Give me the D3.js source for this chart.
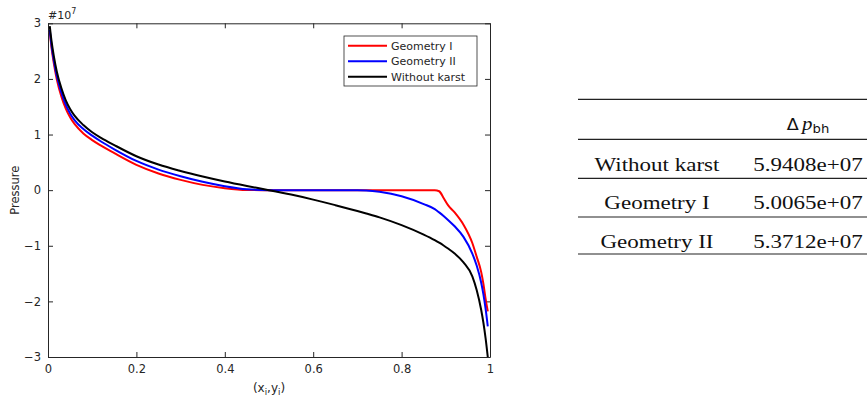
<!DOCTYPE html>
<html>
<head>
<meta charset="utf-8">
<script src="https://cdn.jsdelivr.net/npm/d3@7"></script>
<style>
  body { margin: 0; background: #fff; }
  svg { display: block; }
</style>
</head>
<body>
<script>
// positions along the well (x_i, y_i)
var xs = [0.004, 0.008, 0.013, 0.02, 0.03, 0.04, 0.05, 0.06, 0.08, 0.1, 0.12, 0.15, 0.2, 0.25, 0.3, 0.35, 0.4, 0.45,
          0.5, 0.55, 0.6, 0.65, 0.7, 0.72, 0.75, 0.8, 0.85, 0.875, 0.885, 0.895, 0.905, 0.92, 0.94, 0.96, 0.97, 0.98, 0.985, 0.99, 0.995];

// pressure, units of 1e7
var geomI = [2.85, 2.56, 2.29, 1.99, 1.69, 1.47, 1.31, 1.19, 1.02, 0.9, 0.8, 0.665, 0.455, 0.3, 0.185, 0.095, 0.035, 0.003,
             0, 0, 0, 0, 0, 0, 0, 0, 0, 0, -0.02, -0.14, -0.27, -0.4, -0.62, -0.95, -1.2, -1.47, -1.68, -1.95, -2.18];
var geomII = [2.88, 2.6, 2.34, 2.05, 1.76, 1.54, 1.38, 1.26, 1.1, 0.98, 0.875, 0.735, 0.525, 0.37, 0.25, 0.15, 0.07, 0.015,
              0, 0, 0, 0, 0, -0.005, -0.03, -0.11, -0.25, -0.34, -0.4, -0.465, -0.535, -0.65, -0.84, -1.14, -1.36, -1.66, -1.87, -2.13, -2.45];
var noKarst = [2.95, 2.68, 2.42, 2.13, 1.84, 1.62, 1.46, 1.34, 1.17, 1.04, 0.94, 0.81, 0.61, 0.46, 0.345, 0.245, 0.155, 0.075,
               0.0, -0.08, -0.17, -0.27, -0.375, -0.42, -0.49, -0.63, -0.8, -0.9, -0.945, -0.995, -1.05, -1.14, -1.3, -1.55, -1.8, -2.15, -2.38, -2.66, -3.0];

var seriesNames = ["Geometry I", "Geometry II", "Without karst"];
var seriesColors = ["#ff0000", "#0000ff", "#000000"];

var xTicks = [0, 0.2, 0.4, 0.6, 0.8, 1];
var xTickLabels = ["0", "0.2", "0.4", "0.6", "0.8", "1"];
var yTicks = [-3, -2, -1, 0, 1, 2, 3];

// table
var tableRows = ["Without karst", "Geometry I", "Geometry II"];
var tableValues = ["5.9408e+07", "5.0065e+07", "5.3712e+07"];

var svg = d3.select("body").append("svg")
  .attr("width", 867)
  .attr("height", 405);

var x = d3.scaleLinear().domain([0, 1]).range([48, 490]);
var y = d3.scaleLinear().domain([-3, 3]).range([357, 23.3]);
var axisColor = "#262626";
var sans = "DejaVu Sans, sans-serif";

// axes (box with inward ticks)
var xAxis = svg.append("g")
  .attr("transform", "translate(0," + y(-3) + ")")
  .call(d3.axisBottom(x).tickValues(xTicks).tickFormat(function(d, i) { return xTickLabels[i]; })
    .tickSizeInner(-5).tickSizeOuter(0).tickPadding(8));
var xTop = svg.append("g")
  .attr("transform", "translate(0," + y(3) + ")")
  .call(d3.axisTop(x).tickValues(xTicks).tickFormat("").tickSizeInner(-5).tickSizeOuter(0));
var yAxis = svg.append("g")
  .attr("transform", "translate(" + x(0) + ",0)")
  .call(d3.axisLeft(y).tickValues(yTicks).tickFormat(d3.format("d"))
    .tickSizeInner(-5).tickSizeOuter(0).tickPadding(7));
var yRight = svg.append("g")
  .attr("transform", "translate(" + x(1) + ",0)")
  .call(d3.axisRight(y).tickValues(yTicks).tickFormat("").tickSizeInner(-5).tickSizeOuter(0));

[xAxis, xTop, yAxis, yRight].forEach(function(g) {
  g.select(".domain").attr("stroke", axisColor);
  g.selectAll(".tick line").attr("stroke", axisColor);
  g.selectAll("text").attr("fill", axisColor).style("font-family", sans).style("font-size", "11.5px");
});

// exponent label
svg.append("text")
  .attr("x", x(0))
  .attr("y", 19)
  .style("font-family", sans)
  .style("font-size", "11px")
  .attr("fill", axisColor)
  .text("#10")
  .append("tspan")
    .attr("dy", -5)
    .style("font-size", "8px")
    .text("7");

// axis titles
svg.append("text")
  .attr("transform", "translate(19," + y(0) + ") rotate(-90)")
  .attr("text-anchor", "middle")
  .style("font-family", sans)
  .style("font-size", "11.5px")
  .attr("fill", axisColor)
  .text("Pressure");

var xl = svg.append("text")
  .attr("x", (x(0) + x(1)) / 2)
  .attr("y", 392)
  .attr("text-anchor", "middle")
  .style("font-family", sans)
  .style("font-size", "12px")
  .attr("fill", axisColor);
xl.append("tspan").text("(x");
xl.append("tspan").attr("dy", 3).style("font-size", "8.5px").text("i");
xl.append("tspan").attr("dy", -3).text(",y");
xl.append("tspan").attr("dy", 3).style("font-size", "8.5px").text("i");
xl.append("tspan").attr("dy", -3).text(")");

// curves
var line = d3.line()
  .x(function(d) { return x(d[0]); })
  .y(function(d) { return y(d[1]); })
  .curve(d3.curveMonotoneX);

[geomI, geomII, noKarst].forEach(function(vals, i) {
  svg.append("path")
    .datum(xs.map(function(v, j) { return [v, vals[j]]; }))
    .attr("fill", "none")
    .attr("stroke", seriesColors[i])
    .attr("stroke-width", 2)
    .attr("d", line);
});

// legend
var leg = svg.append("g").attr("transform", "translate(344,36)");
leg.append("rect")
  .attr("width", 133).attr("height", 50)
  .attr("fill", "#fff").attr("stroke", axisColor).attr("stroke-width", 0.8);
seriesNames.forEach(function(name, i) {
  var ly = 9.7 + i * 15.5;
  leg.append("line")
    .attr("x1", 4).attr("x2", 43).attr("y1", ly).attr("y2", ly)
    .attr("stroke", seriesColors[i]).attr("stroke-width", 2);
  leg.append("text")
    .attr("x", 47).attr("y", ly).attr("dy", "0.35em")
    .style("font-family", sans).style("font-size", "11px")
    .attr("fill", axisColor)
    .text(name);
});

// table on the right
var serif = "Liberation Serif, Times New Roman, serif";
var col1 = 657, col2 = 808;
var rules = [99.3, 139.3, 178.3, 217, 254];
var tbl = svg.append("g");
rules.forEach(function(ry) {
  tbl.append("line")
    .attr("x1", 578).attr("x2", 867).attr("y1", ry).attr("y2", ry)
    .attr("stroke", "#222").attr("stroke-width", 1.2);
});

function stretchText(cx, by, txt) {
  tbl.append("g")
    .attr("transform", "translate(" + cx + "," + by + ") scale(1.18,1)")
    .append("text")
      .attr("text-anchor", "middle")
      .style("font-family", serif)
      .style("font-size", "19.5px")
      .attr("fill", "#111")
      .text(txt);
}
tableRows.forEach(function(r, i) {
  var by = 170.7 + i * 38.7;
  stretchText(col1, by, r);
  stretchText(col2, by, tableValues[i]);
});

// header: Δ p_bh
var hd = tbl.append("g").attr("transform", "translate(" + col2 + ",129.5) scale(1.1,1)")
  .append("text").attr("text-anchor", "middle").attr("fill", "#111");
hd.append("tspan").style("font-family", sans).style("font-size", "16px").text("Δ");
hd.append("tspan").attr("dx", 3).style("font-family", serif).style("font-style", "italic").style("font-size", "19px").text("p");
hd.append("tspan").attr("dy", 3).style("font-family", sans).style("font-size", "12px").text("bh");
</script>
</body>
</html>
